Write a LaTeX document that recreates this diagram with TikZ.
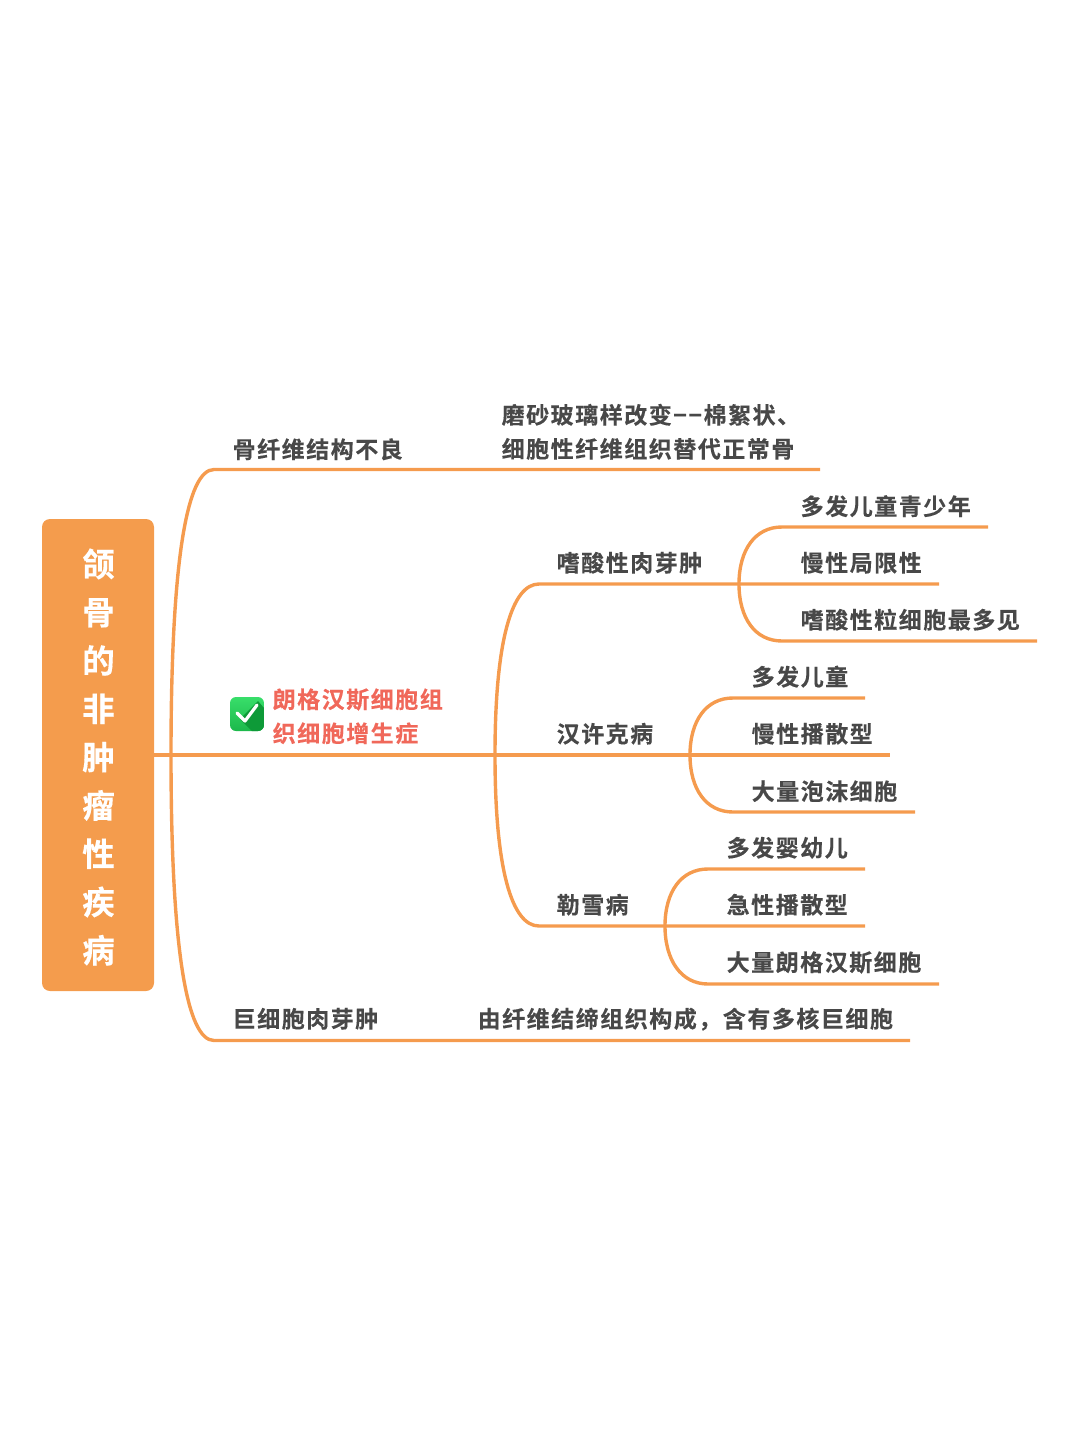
\documentclass[tikz,border=0pt]{standalone}
\usepackage{fontspec}
\setmainfont{Noto Sans CJK SC}[BoldFont={Noto Sans CJK SC Bold}]
\newfontfamily\labelfont{Noto Sans CJK SC Bold}[LetterSpace=6.6,FakeBold=0.25]
\newfontfamily\rootfont{Noto Sans CJK SC Bold}[FakeBold=0.3]
\definecolor{branch}{HTML}{F59B4E}
\definecolor{rootfill}{HTML}{F49C4D}
\definecolor{ink}{HTML}{484848}
\definecolor{alert}{HTML}{F0685A}
\definecolor{tickhi}{HTML}{38DE6A}
\definecolor{ticklo}{HTML}{1CB84B}
\definecolor{tickshade}{HTML}{0E9A38}
\tikzset{
  x=1pt,y=-1pt,
  label/.style={anchor=base west,inner sep=0pt,font=\labelfont\fontsize{23}{34}\selectfont,text=ink},
  labeltwo/.style={anchor=west,inner sep=0pt,align=left,font=\labelfont\fontsize{23}{34}\selectfont},
  link/.style={draw=branch,line width=3.4pt,line cap=butt,line join=round},
  rootbox/.style={fill=rootfill,rounded corners=8pt,minimum width=112pt,minimum height=472pt,inner sep=0pt},
  roottext/.style={inner sep=0pt,align=center,text=white,font=\rootfont\fontsize{32.5}{48.3}\selectfont},
}
\begin{document}
\begin{tikzpicture}
\useasboundingbox (0,0) rectangle (1080,1430);

% junctions on the main trunk
\coordinate (hub) at (171,755);
\coordinate (hubB) at (495,755);
\coordinate (bend1) at (214,469.5);
\coordinate (end1) at (820,469.5);
\coordinate (bend4) at (214,1040.5);
\coordinate (end4) at (910,1040.5);
\coordinate (bendE) at (539,584);
\coordinate (bendL) at (539,926);
\coordinate (hubE) at (739,584);
\coordinate (hubH) at (690,755);
\coordinate (hubL) at (665,926);

% underlines of the leaf topics
\coordinate (e1a) at (782,527); \coordinate (e1b) at (988,527);
\coordinate (e2b) at (939,584);
\coordinate (e3a) at (782,641); \coordinate (e3b) at (1037,641);
\coordinate (h1a) at (733,698); \coordinate (h1b) at (865,698);
\coordinate (h2b) at (890,755);
\coordinate (h3a) at (733,812); \coordinate (h3b) at (915,812);
\coordinate (l1a) at (708,869); \coordinate (l1b) at (865,869);
\coordinate (l2b) at (865,926);
\coordinate (l3a) at (708,984); \coordinate (l3b) at (939,984);

\node[rootbox] (root) at (98,755) {};
\node[roottext] (roottitle) at (98.5,757) {颌\\骨\\的\\非\\肿\\瘤\\性\\疾\\病};

% first and second level branches
\draw[link] (root.east |- hub) -- (hub) -- (hubB) -- (hubH) -- (h2b);
\draw[link] (hub) .. controls (171,560) and (187,469.5) .. (bend1) -- (end1);
\draw[link] (hub) .. controls (171,950) and (187,1040.5) .. (bend4) -- (end4);
\draw[link] (hubB) .. controls (495,640) and (512,584) .. (bendE) -- (hubE) -- (e2b);
\draw[link] (hubB) .. controls (495,870) and (512,926) .. (bendL) -- (hubL) -- (l2b);

% third level branches
\draw[link] (hubE) .. controls (739,550) and (755,527) .. (e1a) -- (e1b);
\draw[link] (hubE) .. controls (739,618) and (755,641) .. (e3a) -- (e3b);
\draw[link] (hubH) .. controls (690,721) and (706,698) .. (h1a) -- (h1b);
\draw[link] (hubH) .. controls (690,789) and (706,812) .. (h3a) -- (h3b);
\draw[link] (hubL) .. controls (665,892) and (681,869) .. (l1a) -- (l1b);
\draw[link] (hubL) .. controls (665,960) and (681,984) .. (l3a) -- (l3b);

% topic labels
\node[label] (fd) at (232.5,458) {骨纤维结构不良};
\node[labeltwo,text=ink] (fdnote) at (501.5,431.8) {磨砂玻璃样改变−−棉絮状、\\细胞性纤维组织替代正常骨};
\node[labeltwo,text=alert] (lch) at (272.5,716.3) {朗格汉斯细胞组\\织细胞增生症};
\node[label] (eg) at (556.5,571.5) {嗜酸性肉芽肿};
\node[label] (e1) at (800.5,515) {多发儿童青少年};
\node[label] (e2) at (800.5,571.5) {慢性局限性};
\node[label] (e3) at (800.5,628.5) {嗜酸性粒细胞最多见};
\node[label] (hsc) at (556.5,742.5) {汉许克病};
\node[label] (h1) at (751.5,685.5) {多发儿童};
\node[label] (h2) at (751.5,742.5) {慢性播散型};
\node[label] (h3) at (751.5,800) {大量泡沫细胞};
\node[label] (ls) at (556.5,913.5) {勒雪病};
\node[label] (l1) at (726.5,856.5) {多发婴幼儿};
\node[label] (l2) at (726.5,913.5) {急性播散型};
\node[label] (l3) at (726.5,971) {大量朗格汉斯细胞};
\node[label] (gc) at (232.5,1027.5) {巨细胞肉芽肿};
\node[label] (gcnote) at (477.5,1027.5) {由纤维结缔组织构成，含有多核巨细胞};

% tick icon beside the highlighted topic
\begin{scope}
  \clip[rounded corners=6pt] (230,697) rectangle (264,731);
  \shade[top color=tickhi,bottom color=ticklo] (230,697) rectangle (264,731);
  \fill[tickshade] (240,719) -- (258,701) -- (264,708) -- (264,731) -- (252,731) -- cycle;
\end{scope}
\draw[white,line width=3.2pt,line cap=round,line join=round] (237,713) -- (245,721) -- (257,705);
\end{tikzpicture}
\end{document}
